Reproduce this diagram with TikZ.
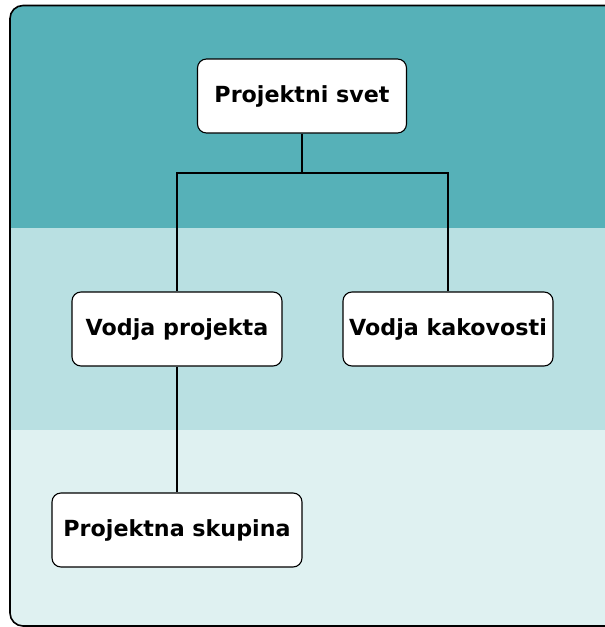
\documentclass[tikz,border=0pt]{standalone}
\usepackage{fontspec}
\setmainfont{DejaVu Sans}
\definecolor{bandA}{HTML}{56B1B8}
\definecolor{bandB}{HTML}{B9E0E2}
\definecolor{bandC}{HTML}{DFF1F1}
\tikzset{
  orgbox/.style={draw=black, line width=1.1pt, fill=white, rounded corners=9pt,
    minimum height=74pt, inner sep=0pt, font=\fontsize{22.2}{25}\selectfont\bfseries},
  link/.style={draw=black, line width=1.1pt}
}
\begin{document}
\begin{tikzpicture}[x=1pt,y=-1pt]
\useasboundingbox (0,0) rectangle (605,627);
\clip (0,0) rectangle (605,627);
\begin{scope}
\clip[rounded corners=13pt] (10,5.5) rectangle (640,626);
\fill[bandA] (0,0) rectangle (640,228);
\fill[bandB] (0,228) rectangle (640,430);
\fill[bandC] (0,430) rectangle (640,640);
\end{scope}
\draw[line width=1.6pt, rounded corners=13pt] (10,5.5) rectangle (640,626);
\node[orgbox, minimum width=209pt] (svet) at (302,96) {Projektni svet};
\node[orgbox, minimum width=210pt] (vp) at (177,329) {Vodja projekta};
\node[orgbox, minimum width=210pt] (vk) at (448,329) {Vodja kakovosti};
\node[orgbox, minimum width=250pt] (ps) at (177,530) {Projektna skupina};
\coordinate (j) at (302,173);
\draw[link] (svet.south) -- (j);
\draw[link] (j) -| (vp.north);
\draw[link] (j) -| (vk.north);
\draw[link] (vp.south) -- (ps.north);
\end{tikzpicture}
\end{document}
